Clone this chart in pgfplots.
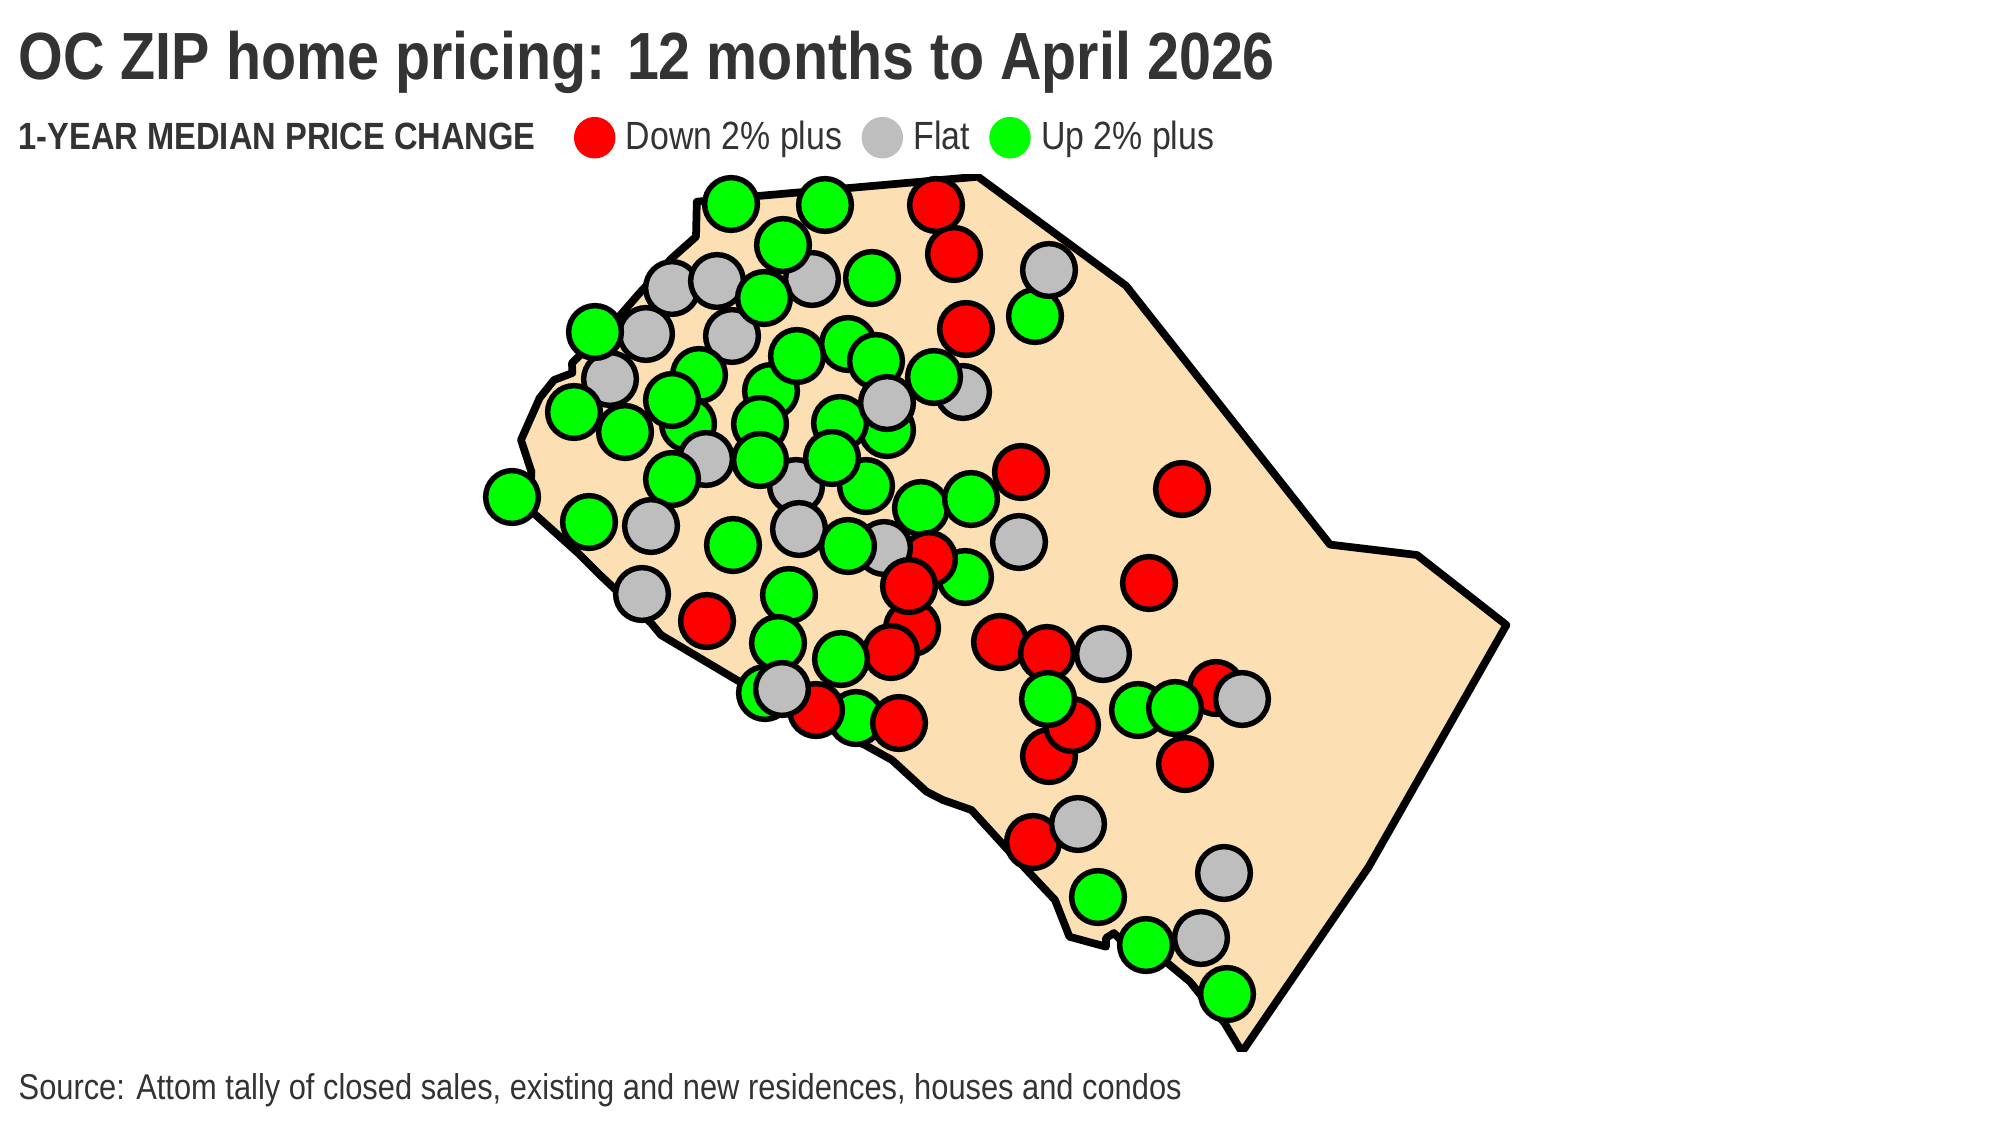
\documentclass[border=0pt]{standalone}
\usepackage{fontspec}
\usepackage{pgfplots}
\usepackage{pgfplotstable}
\pgfplotsset{compat=1.18}
\setmainfont{Liberation Sans}[FakeStretch=0.86]
\definecolor{landfill}{HTML}{FCE0B4}
\definecolor{textdark}{HTML}{333333}
\definecolor{flatgray}{HTML}{BEBEBE}
\definecolor{upgreen}{HTML}{00FF00}
\definecolor{downred}{HTML}{FF0000}

% ZIP points in image pixels, in drawing order
\pgfplotstableread{
x y c
646 334 f
610 379 f
574 412 u
625 432 u
672 288 f
717 281 f
812 279 f
732 336 f
764 298 u
783 245 u
595 332 u
731 204 u
825 205 u
936 205 d
954 254 d
872 278 u
1035 316 u
1049 270 f
966 329 d
848 344 u
771 391 u
797 356 u
876 361 u
963 392 f
934 377 u
699 375 u
688 424 u
706 459 f
672 400 u
672 479 u
887 430 u
840 423 u
887 403 f
796 486 f
760 424 u
760 460 u
866 486 u
832 458 u
1021 472 d
921 508 u
971 499 u
512 497 u
589 522 u
651 526 f
799 529 f
733 545 u
1019 542 f
1182 489 d
965 577 u
912 628 d
929 559 d
884 548 f
909 586 d
848 546 u
891 652 d
841 659 u
1149 583 d
642 594 f
707 621 d
789 595 u
778 643 u
856 718 u
816 710 d
899 723 d
765 693 u
782 689 f
1000 642 d
1047 653 d
1103 654 f
1049 756 d
1072 725 d
1048 699 u
1138 710 u
1216 688 d
1175 708 u
1242 699 f
1185 764 d
1033 842 d
1078 824 f
1224 873 f
1098 897 u
1146 945 u
1201 938 f
1227 994 u
}\zippoints

\pgfplotsset{
    swatch/.style={legend image code/.code={
        \path (0cm,0cm) (0.6cm,0cm);
        \fill[#1] (0.3cm,0cm) circle (5.7pt);
    }},
}

\begin{document}
\begin{tikzpicture}
\useasboundingbox (0,-0.74) rectangle (20,10.51);
\begin{axis}[
    at={(0,0)}, anchor=south west,
    scale only axis,
    width=20cm, height=8.76cm,
    xmin=0, xmax=2000,
    ymin=175, ymax=1051,
    y dir=reverse,
    hide axis,
    legend columns=3,
    legend style={
        at={(axis cs:564,137.7)}, anchor=west,
        draw=none, fill=none,
        inner sep=0pt, outer sep=0pt,
        nodes={inner xsep=0pt},
        font=\fontsize{11.2pt}{13pt}\selectfont\color{textdark},
        /tikz/every even column/.append style={column sep=2.7pt},
        /tikz/every odd column/.append style={column sep=0.1pt},
    },
    scatter/classes={
        d={mark=*, fill=downred},
        f={mark=*, fill=flatgray},
        u={mark=*, fill=upgreen}
    },
]
\addlegendimage{swatch=downred}
\addlegendentry{Down 2\% plus}
\addlegendimage{swatch=flatgray}
\addlegendentry{Flat}
\addlegendimage{swatch=upgreen}
\addlegendentry{Up 2\% plus}

\addplot[fill=landfill, draw=black, line width=2.2pt, line join=round, forget plot] coordinates {
    (978,176.7) (758,196) (696.8,201.7) (696,236.7) (672,258) (639.6,293)
    (619,316.7) (572,363) (572.3,373) (554,380) (539.6,398) (521,440)
    (531.4,471.7) (530,500) (533.5,513) (578,553) (600,575) (651,623)
    (661,635) (736.7,680) (800,715) (865,745) (892,760) (926.6,791.7)
    (943,800) (971.5,810) (1008,850) (1055,900) (1069.4,936.7) (1106,946.7)
    (1106,938) (1114,933) (1130,950) (1167.4,963) (1190,981.7) (1202,996.7)
    (1224.5,1023) (1242,1052) (1368.6,867) (1506.4,625) (1417,555)
    (1330,544.6) (1126,285.7)
} -- cycle;

\addplot[scatter, only marks, scatter src=explicit symbolic,
    mark size=7.5pt, line width=1.55pt, draw=black, forget plot]
    table[x=x, y=y, meta=c] {\zippoints};
\end{axis}
\node[anchor=base west, inner sep=0pt, text=textdark] at (0.18,9.71)
    {\fontsize{19pt}{22pt}\selectfont\bfseries OC ZIP home pricing: 12 months to April 2026};
\node[anchor=base west, inner sep=0pt, text=textdark] at (0.18,9.01)
    {\fontsize{10.8pt}{13pt}\selectfont\bfseries 1-YEAR MEDIAN PRICE CHANGE};
\node[anchor=base west, inner sep=0pt, text=textdark] at (0.18,-0.48)
    {\fontsize{10.2pt}{12pt}\selectfont Source: Attom tally of closed sales, existing and new residences, houses and condos};
\end{tikzpicture}
\end{document}
